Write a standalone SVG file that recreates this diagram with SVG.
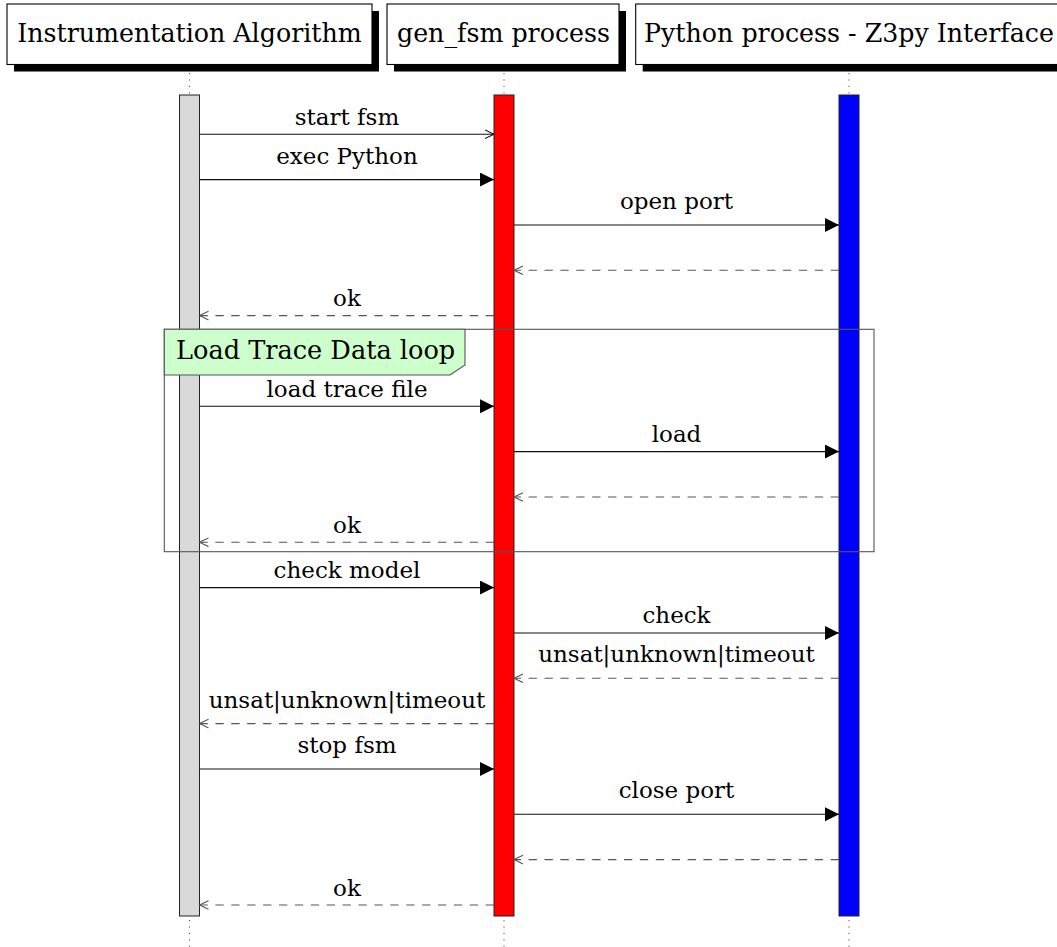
<svg xmlns="http://www.w3.org/2000/svg" width="1057" height="947" viewBox="0 0 1057 947">
<style>
.hdr{fill:#fff;stroke:#000;stroke-width:1.1}
.shd{fill:#000}
.ht{font-family:"DejaVu Serif","Liberation Serif",serif;font-size:25.3px;fill:#000;text-anchor:middle}
.lbl{font-family:"DejaVu Serif","Liberation Serif",serif;font-size:23px;fill:#000;text-anchor:middle}
.lt{font-family:"DejaVu Serif","Liberation Serif",serif;font-size:25.6px;fill:#000}
.life{stroke:#555;stroke-width:1;stroke-dasharray:1.2 5.2;fill:none}
.bar{stroke:#222;stroke-width:1}
.msg{stroke:#111;stroke-width:1.1;fill:none}
.ret{stroke:#555;stroke-width:1.1;fill:none;stroke-dasharray:8.3 7.6}
.syn{marker-end:url(#tri)}
.asy{marker-end:url(#opn)}
.rto{marker-end:url(#opnr)}
</style>
<defs>
<marker id="tri" markerUnits="userSpaceOnUse" markerWidth="16" markerHeight="16" refX="14" refY="7" orient="auto" viewBox="0 0 16 16">
<path d="M0,0 L14,7 L0,14 Z" fill="#000"/>
</marker>
<marker id="opn" markerUnits="userSpaceOnUse" markerWidth="12" markerHeight="12" refX="9.5" refY="5" orient="auto" viewBox="0 0 12 12">
<path d="M0.5,0.7 L9.5,5 L0.5,9.3" fill="none" stroke="#111" stroke-width="1.1" stroke-dasharray="none"/>
</marker>
<marker id="opnr" markerUnits="userSpaceOnUse" markerWidth="12" markerHeight="12" refX="9.5" refY="5" orient="auto" viewBox="0 0 12 12">
<path d="M0.5,0.7 L9.5,5 L0.5,9.3" fill="none" stroke="#555" stroke-width="1.1" stroke-dasharray="none"/>
</marker>
</defs>
<rect width="1057" height="947" fill="#fff"/>

<g id="lifeline-instrumentation">
<line class="life" x1="189.5" y1="73" x2="189.5" y2="95"/>
<line class="life" x1="189.5" y1="920" x2="189.5" y2="947"/>
<rect class="shd" x="14" y="11" width="365" height="60.5"/>
<rect class="hdr" x="7" y="4" width="365" height="60.5"/>
<text class="ht" x="189.5" y="42">Instrumentation Algorithm</text>
<rect class="bar" x="179.5" y="95" width="20" height="821" fill="#d9d9d9"/>
</g>

<g id="lifeline-genfsm">
<line class="life" x1="504" y1="73" x2="504" y2="95"/>
<line class="life" x1="504" y1="920" x2="504" y2="947"/>
<rect class="shd" x="394" y="11" width="232" height="60.5"/>
<rect class="hdr" x="387" y="4" width="232" height="60.5"/>
<text class="ht" x="503.5" y="42">gen_fsm process</text>
<rect class="bar" x="494" y="95" width="20" height="821" fill="#ff0000"/>
</g>

<g id="lifeline-python">
<line class="life" x1="849" y1="73" x2="849" y2="95"/>
<line class="life" x1="849" y1="920" x2="849" y2="947"/>
<rect class="shd" x="642.7" y="11" width="426" height="60.5"/>
<rect class="hdr" x="635.7" y="4" width="426" height="60.5"/>
<text class="ht" x="849" y="42">Python process - Z3py Interface</text>
<rect class="bar" x="839" y="95" width="20" height="821" fill="#0000ff"/>
</g>

<g id="loop-frame">
<rect x="164.3" y="329.3" width="709.7" height="222.4" fill="none" stroke="#555" stroke-width="1.1"/>
<path d="M164.3,329.3 H465 V365 L450,375 H164.3 Z" fill="#ccffcc" stroke="#555" stroke-width="1.1"/>
<text class="lt" x="176" y="359">Load Trace Data loop</text>
</g>

<g id="connectors">
<line class="msg asy" x1="199.5" y1="134.3" x2="494" y2="134.3"/>
<text class="lbl" x="347" y="125">start fsm</text>

<line class="msg syn" x1="199.5" y1="179.6" x2="494" y2="179.6"/>
<text class="lbl" x="347" y="164">exec Python</text>

<line class="msg syn" x1="514" y1="225" x2="839" y2="225"/>
<text class="lbl" x="676.5" y="209">open port</text>

<line class="ret rto" x1="839" y1="270.3" x2="514" y2="270.3"/>

<line class="ret rto" x1="494" y1="315.6" x2="199.5" y2="315.6"/>
<text class="lbl" x="347" y="306">ok</text>

<line class="msg syn" x1="199.5" y1="406.3" x2="494" y2="406.3"/>
<text class="lbl" x="347" y="397">load trace file</text>

<line class="msg syn" x1="514" y1="451.6" x2="839" y2="451.6"/>
<text class="lbl" x="676.5" y="442">load</text>

<line class="ret rto" x1="839" y1="497" x2="514" y2="497"/>

<line class="ret rto" x1="494" y1="542.3" x2="199.5" y2="542.3"/>
<text class="lbl" x="347" y="533">ok</text>

<line class="msg syn" x1="199.5" y1="587.6" x2="494" y2="587.6"/>
<text class="lbl" x="347" y="578">check model</text>

<line class="msg syn" x1="514" y1="633" x2="839" y2="633"/>
<text class="lbl" x="676.5" y="623">check</text>

<line class="ret rto" x1="839" y1="678.3" x2="514" y2="678.3"/>
<text class="lbl" x="676.5" y="662">unsat|unknown|timeout</text>

<line class="ret rto" x1="494" y1="723.6" x2="199.5" y2="723.6"/>
<text class="lbl" x="347" y="708">unsat|unknown|timeout</text>

<line class="msg syn" x1="199.5" y1="769" x2="494" y2="769"/>
<text class="lbl" x="347" y="753">stop fsm</text>

<line class="msg syn" x1="514" y1="814.3" x2="839" y2="814.3"/>
<text class="lbl" x="676.5" y="798">close port</text>

<line class="ret rto" x1="839" y1="859.6" x2="514" y2="859.6"/>

<line class="ret rto" x1="494" y1="905" x2="199.5" y2="905"/>
<text class="lbl" x="347" y="896">ok</text>
</g>
</svg>
